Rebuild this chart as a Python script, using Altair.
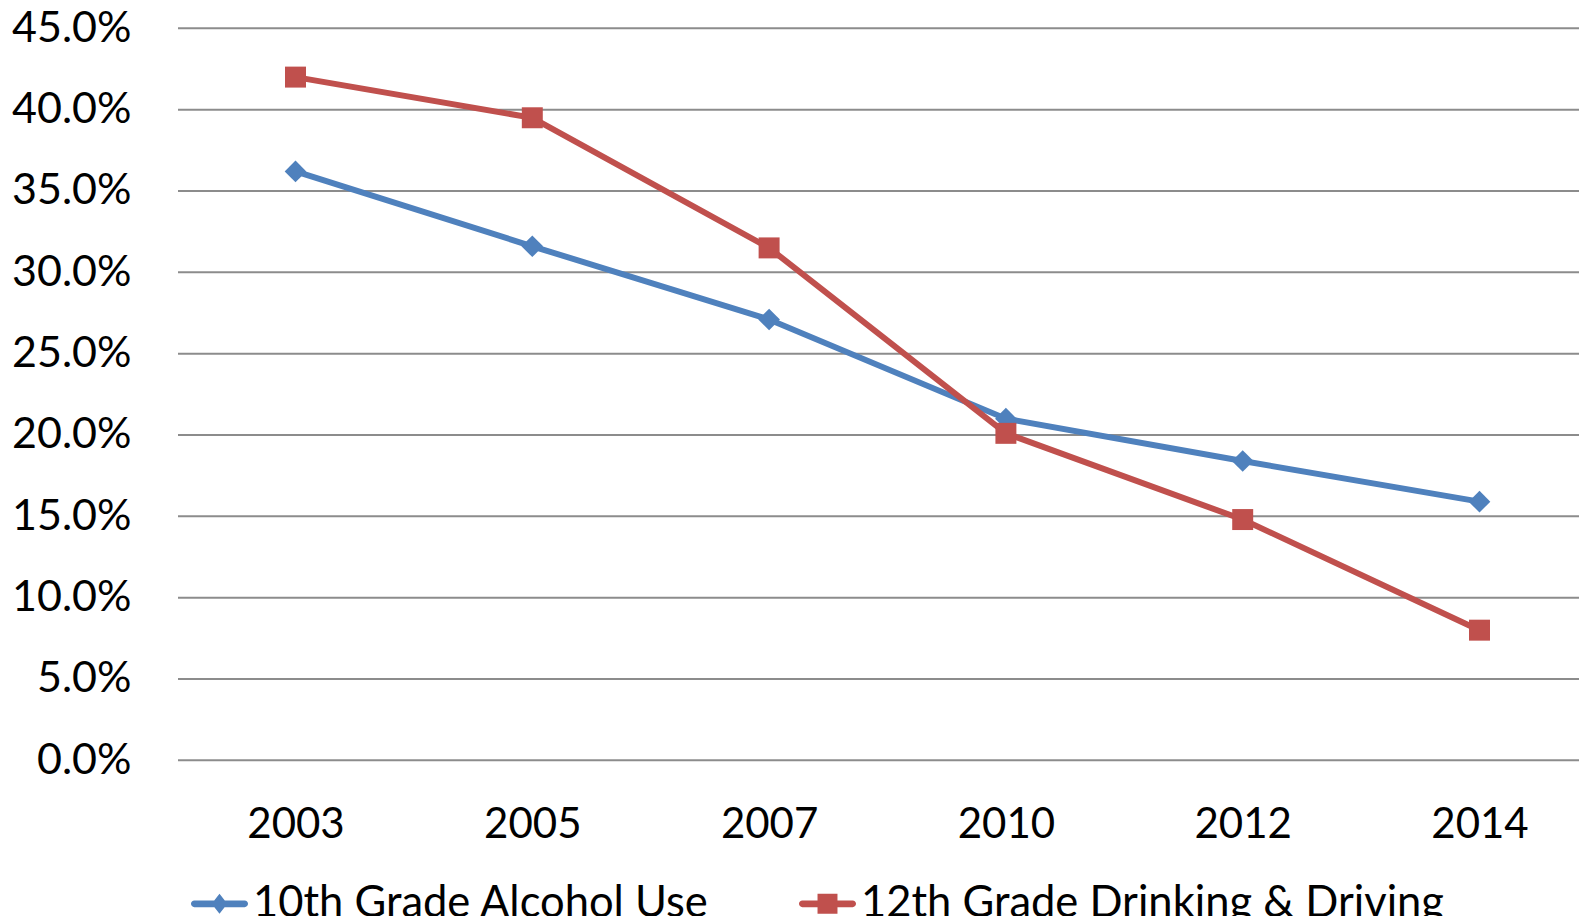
import altair as alt
import pandas as pd

years = ["2003", "2005", "2007", "2010", "2012", "2014"]
series_names = ["10th Grade Alcohol Use", "12th Grade Drinking & Driving"]
alcohol_10th = [0.362, 0.316, 0.271, 0.210, 0.184, 0.159]
drinking_driving_12th = [0.420, 0.395, 0.315, 0.201, 0.148, 0.080]
y_ticks = [0.0, 0.05, 0.10, 0.15, 0.20, 0.25, 0.30, 0.35, 0.40, 0.45]
colors = ["#4F81BD", "#C0504D"]
marker_shapes = ["diamond", "square"]

rows = []
for name, vals in zip(series_names, [alcohol_10th, drinking_driving_12th]):
    for yr, v in zip(years, vals):
        rows.append({"Year": yr, "Series": name, "Value": v})
df = pd.DataFrame(rows)
grid_df = pd.DataFrame({"Value": y_ticks})

FONT = "Lato"

# legend symbols: a short round-capped line with the series marker on it
LINE_PART = ("M-0.883,-0.1175L0.883,-0.1175A0.1175,0.1175 0 0 1 0.883,0.1175"
             "L-0.883,0.1175A0.1175,0.1175 0 0 1 -0.883,-0.1175Z")
PATH_DIAMOND_LINE = LINE_PART + " M0,-0.35L0.275,0L0,0.35L-0.275,0Z"
PATH_SQUARE_LINE = LINE_PART + " M-0.35,-0.35L0.35,-0.35L0.35,0.35L-0.35,0.35Z"

legend = alt.Legend(
    title=None,
    orient="none",
    legendX=13,
    legendY=847,
    direction="horizontal",
    padding=0,
    labelFont=FONT,
    labelFontSize=43.5,
    labelColor="#000000",
    labelLimit=2000,
    labelOffset=5,
    columnPadding=88,
    symbolSize=3249,
    symbolStrokeWidth=0,
    symbolOpacity=1,
)

x = alt.X(
    "Year:O",
    sort=years,
    scale=alt.Scale(type="point", range=[117.5, 1301.5], padding=0),
    axis=alt.Axis(
        title=None, labelAngle=0, ticks=False, domain=False, grid=False,
        labelFont=FONT, labelFontSize=42, labelColor="#000000",
        labelBaseline="alphabetic", labelPadding=77,
    ),
)
y_scale = alt.Scale(domain=[0, 0.45], nice=False, zero=True)
y = alt.Y(
    "Value:Q",
    scale=y_scale,
    axis=alt.Axis(
        title=None, format=".1%", values=y_ticks, ticks=False, domain=False,
        grid=False,
        labelFont=FONT, labelFontSize=43, labelColor="#000000",
        labelPadding=47,
    ),
)

base = alt.Chart(df)

grid = alt.Chart(grid_df).mark_rule(color="#8c8c8c", strokeWidth=2).encode(y=y)

layers = [grid]
for name, col in zip(series_names, colors):
    layers.append(
        base.transform_filter(alt.datum.Series == name)
        .mark_line(strokeWidth=6, color=col)
        .encode(x=x, y=y, order=alt.Order("Year:O"))
    )
for name, col, shp in zip(series_names, colors, marker_shapes):
    layers.append(
        base.transform_filter(alt.datum.Series == name)
        .mark_point(shape=shp, filled=True, size=470 if shp == "diamond" else 440,
                    opacity=1, color=col)
        .encode(x=x, y=y)
    )

legend_layer = base.mark_point(filled=True, clip=True, xOffset=5000).encode(
    x=x, y=y,
    fill=alt.Fill("Series:N", sort=series_names,
                  scale=alt.Scale(domain=series_names, range=colors), legend=legend),
    shape=alt.Shape("Series:N", sort=series_names,
                    scale=alt.Scale(domain=series_names,
                                    range=[PATH_DIAMOND_LINE, PATH_SQUARE_LINE]),
                    legend=legend),
)
layers.append(legend_layer)

chart = alt.layer(*layers).properties(
    width=1401,
    height=732,
    background="white",
    autosize=alt.AutoSizeParams(type="none"),
    padding={"left": 170, "top": 20.3, "right": 0, "bottom": 155.7},
).configure_view(stroke=None)

chart.save("out.html", embed_options={"renderer": "svg", "actions": False})
